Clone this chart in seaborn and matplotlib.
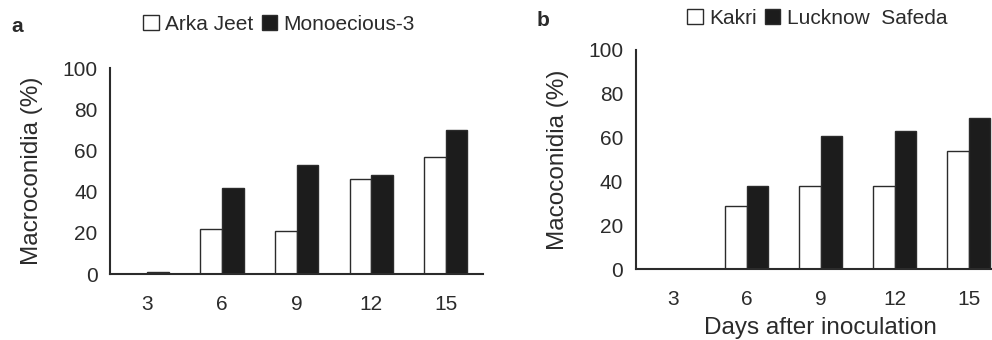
import numpy as np
import pandas as pd
import seaborn as sns
import matplotlib.pyplot as plt
import matplotlib.patches as mpatches

days = ["3", "6", "9", "12", "15"]

# panel a
cult_a = ["Arka Jeet", "Monoecious-3"]
arka_jeet = [0, 22, 21, 46, 57]
monoecious_3 = [1, 42, 53, 48, 70]

# panel b
cult_b = ["Kakri", "Lucknow  Safeda"]
kakri = [0, 29, 38, 38, 54]
lucknow_safeda = [0, 38, 61, 63, 69]

INK = "#2b2b2b"
FILL = "#1c1c1c"


def make_frame(cults, first, second):
    return pd.DataFrame({
        "day": days * 2,
        "pct": first + second,
        "cultivar": [cults[0]] * len(days) + [cults[1]] * len(days),
    })


def panel(fig, rect, df, cults, ylabel, letter, letter_xy, leg_xy, xlabel=None):
    ax = fig.add_axes(rect)
    sns.barplot(data=df, x="day", y="pct", hue="cultivar", order=days,
                hue_order=cults, palette=["white", FILL], edgecolor=INK,
                linewidth=1.0, width=0.58, errorbar=None, legend=False, ax=ax)
    ax.set_xlim(-0.5, 4.5)
    ax.set_ylim(0, 100)
    ax.set_yticks(range(0, 101, 20))
    ax.set_xticks(np.arange(-0.5, 5, 1), minor=True)
    ax.tick_params(axis="x", which="major", length=0, pad=15, labelsize=15, colors=INK)
    ax.tick_params(axis="x", which="minor", length=5, width=1.2, color=INK)
    ax.tick_params(axis="y", length=5, width=1.2, labelsize=15, colors=INK, pad=4)
    for side in ["top", "right"]:
        ax.spines[side].set_visible(False)
    for side in ["left", "bottom"]:
        ax.spines[side].set_linewidth(1.5)
        ax.spines[side].set_color(INK)
    ax.set_ylabel(ylabel, fontsize=17.5, color=INK, labelpad=14)
    ax.set_xlabel(xlabel if xlabel else "", fontsize=17.5, color=INK, labelpad=6)

    handles = [mpatches.Patch(facecolor="white", edgecolor=INK, linewidth=1.0),
               mpatches.Patch(facecolor=FILL, edgecolor=INK, linewidth=1.0)]
    fig.legend(handles, cults, loc="center", bbox_to_anchor=leg_xy,
               bbox_transform=fig.transFigure, ncol=2, frameon=False,
               handlelength=0.75, handleheight=0.75, handletextpad=0.3,
               columnspacing=0.4, fontsize=15, labelcolor=INK)
    fig.text(letter_xy[0], letter_xy[1], letter, fontsize=15, fontweight="bold",
             color=INK, ha="center", va="center")
    return ax


sns.set_style("white")
plt.rcParams["font.family"] = ["Liberation Sans", "DejaVu Sans"]

fig = plt.figure(figsize=(9.92, 3.4), dpi=100)

df_a = make_frame(cult_a, arka_jeet, monoecious_3)
df_b = make_frame(cult_b, kakri, lucknow_safeda)

panel(fig, [0.111, 0.194, 0.376, 0.606], df_a, cult_a, "Macroconidia (%)",
      "a", (17 / 992, 1 - 27 / 340), (279 / 992, 1 - 24 / 340))
panel(fig, [0.641, 0.208, 0.373, 0.645], df_b, cult_b, "Macoconidia (%)",
      "b", (543 / 992, 1 - 21 / 340), (817 / 992, 1 - 18 / 340),
      xlabel="Days after inoculation")

plt.savefig("out.png", dpi=100)
